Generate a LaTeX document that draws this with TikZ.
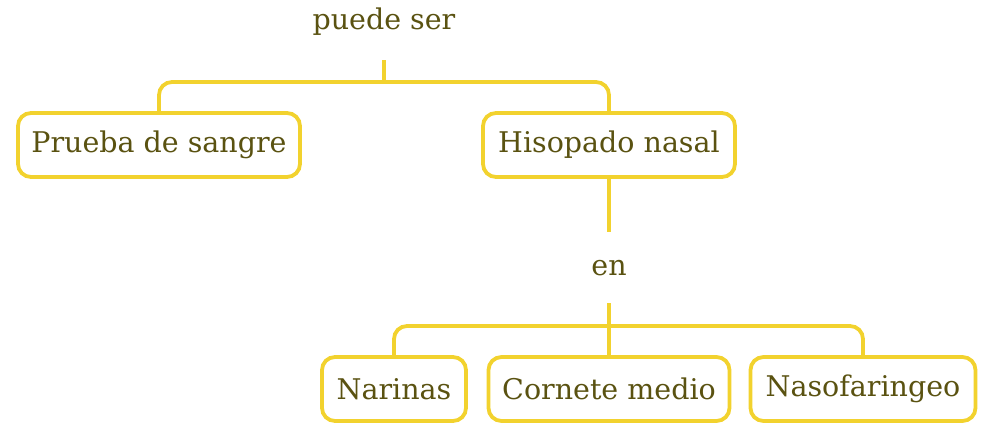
\documentclass[tikz,border=0pt]{standalone}
\usepackage{fontspec}
\setmainfont{DejaVu Serif}
\definecolor{ylw}{HTML}{F2D22E}
\definecolor{txt}{HTML}{5A5211}
\newcommand{\lowtxt}[1]{\raisebox{-2pt}{#1}}
\begin{document}
\begin{tikzpicture}[x=1pt,y=-1pt,
  box/.style={draw=ylw,line width=3.8pt,rounded corners=13pt,fill=white,
    minimum height=64pt,inner sep=0pt,text=txt,font=\fontsize{28.5}{34}\selectfont},
  lbl/.style={text=txt,font=\fontsize{28.5}{34}\selectfont,inner sep=0pt},
  conn/.style={draw=ylw,line width=3.8pt,rounded corners=13pt}]
\useasboundingbox (0,0) rectangle (988,426);
\node[lbl] (l1) at (384,22) {puede ser};
\node[box,minimum width=282pt] (p) at (159,145) {\lowtxt{Prueba de sangre}};
\node[box,minimum width=252pt] (h) at (609,145) {\lowtxt{Hisopado nasal}};
\node[lbl] (l2) at (609,268) {en};
\node[box,minimum width=144pt] (n) at (394,389) {\lowtxt{Narinas}};
\node[box,minimum width=241pt] (c) at (609,389) {\lowtxt{Cornete medio}};
\node[box,minimum width=225pt] (f) at (863,389) {\lowtxt{Nasofaringeo}};
\coordinate (t1) at (384,60);
\coordinate (b1) at (384,82);
\coordinate (t2) at (609,232);
\coordinate (t3) at (609,303);
\coordinate (b2) at (609,326);
\draw[conn] (t1) -- (b1);
\draw[conn] (p.north) |- (b1) -| (h.north);
\draw[conn] (h.south) -- (t2);
\draw[conn] (t3) -- (c.north);
\draw[conn] (n.north) |- (b2) -| (f.north);
\end{tikzpicture}
\end{document}
